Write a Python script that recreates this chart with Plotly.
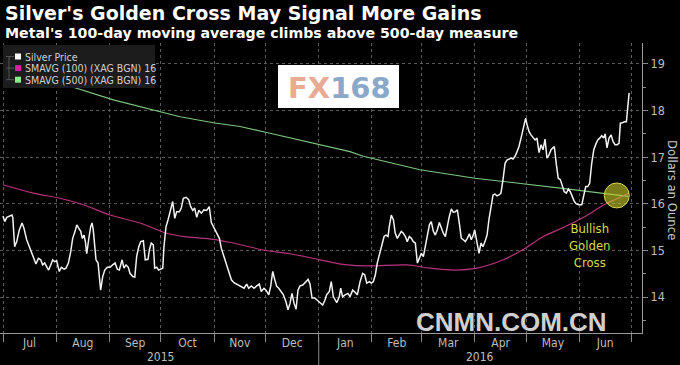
import pandas as pd
import plotly.graph_objects as go

START = pd.Timestamp("2015-07-01")

# Silver price: days since 2015-07-01, dollars per ounce
price_days = [0.0, 1.0, 2.2, 3.7, 5.2, 5.7, 6.8, 8.0, 9.5, 11.1, 12.2, 13.8, 15.3, 16.7, 18.1, 19.2,
              20.6, 22.0, 23.1, 24.3, 25.5, 26.6, 27.8, 29.0, 30.1, 31.3, 32.1, 32.8, 34.0, 35.6, 36.7,
              38.1, 39.5, 40.6, 42.0, 43.0, 44.1, 45.3, 46.2, 47.2, 48.0, 48.8, 49.9, 51.1, 51.9, 52.6,
              53.4, 54.2, 55.4, 56.1, 56.9, 58.1, 59.3, 60.8, 62.4, 63.9, 65.3, 66.6, 67.8, 69.4, 70.5,
              71.7, 73.0, 74.0, 75.6, 76.8, 77.9, 79.1, 80.3, 81.8, 82.9, 84.5, 85.3, 86.4, 87.6, 88.4,
              89.6, 90.7, 91.9, 93.1, 93.8, 95.0, 96.2, 97.3, 98.9, 100.1, 101.2, 102.8, 103.9, 105.1,
              106.7, 108.2, 109.4, 110.6, 111.7, 112.9, 114.1, 115.6, 117.1, 118.7, 120.2, 121.4, 122.6,
              123.7, 124.9, 126.1, 127.2, 128.4, 130.0, 131.5, 133.1, 134.6, 136.2, 137.7, 139.3, 140.5,
              142.0, 143.2, 144.7, 146.3, 147.9, 149.4, 150.5, 152.1, 153.3, 154.9, 156.0, 157.2, 158.4,
              159.5, 160.7, 162.2, 163.4, 164.9, 166.1, 167.3, 168.4, 169.6, 170.8, 171.9, 173.1, 174.7,
              176.2, 177.8, 178.9, 180.1, 181.7, 183.2, 184.8, 186.3, 187.5, 188.6, 190.2, 191.3, 192.5,
              194.5, 196.0, 196.8, 197.9, 199.4, 201.0, 202.2, 203.8, 205.3, 206.5, 208.1, 209.6, 210.8,
              212.0, 213.5, 214.6, 215.8, 217.0, 218.1, 219.7, 220.9, 222.1, 223.2, 224.4, 225.1, 226.3,
              227.5, 228.6, 229.8, 231.0, 232.1, 233.3, 234.5, 235.6, 236.8, 238.0, 239.1, 240.3, 241.5,
              242.6, 243.8, 245.0, 246.1, 247.3, 248.5, 249.6, 250.8, 251.9, 253.1, 254.3, 255.4, 256.6,
              257.8, 258.9, 260.1, 261.3, 262.4, 263.6, 264.8, 265.9, 267.1, 268.3, 269.4, 270.6, 271.8,
              272.9, 274.1, 274.9, 276.3, 277.4, 278.6, 279.7, 280.9, 282.1, 283.2, 284.4, 285.6, 286.7,
              287.9, 289.1, 290.2, 291.4, 292.6, 293.7, 294.9, 296.1, 297.2, 298.4, 299.6, 300.7, 301.9,
              303.1, 303.8, 304.6, 305.4, 306.6, 307.7, 308.9, 310.1, 311.2, 312.4, 313.6, 314.7, 315.9,
              317.0, 318.2, 319.4, 320.5, 321.3, 322.5, 323.6, 324.8, 326.0, 327.1, 328.3, 329.5, 330.6,
              331.8, 333.0, 334.1, 335.7, 337.3, 338.4, 339.6, 340.8, 341.9, 343.1, 344.3, 345.4, 346.6,
              347.8, 348.9, 350.1, 350.9, 352.0, 353.2, 354.4, 355.5, 356.7, 357.9, 359.0, 359.8, 361.0,
              362.2, 363.3, 364.2, 364.9]
price_vals = [15.74, 15.62, 15.71, 15.73, 15.76, 15.71, 15.08, 15.19, 15.44, 15.59, 15.48, 15.23, 15.08,
              14.98, 14.83, 14.71, 14.83, 14.80, 14.69, 14.73, 14.65, 14.58, 14.69, 14.80, 14.76, 14.78,
              14.65, 14.55, 14.64, 14.60, 14.62, 14.73, 14.98, 15.26, 15.41, 15.55, 15.48, 15.41, 15.26,
              15.33, 15.19, 14.93, 15.23, 15.51, 15.59, 15.44, 15.12, 14.80, 14.73, 14.44, 14.15, 14.44,
              14.58, 14.64, 14.64, 14.69, 14.73, 14.60, 14.58, 14.80, 14.62, 14.69, 14.64, 14.51, 14.44,
              14.43, 14.87, 15.08, 15.19, 15.21, 14.80, 14.81, 15.01, 15.16, 15.12, 14.62, 14.64, 14.58,
              14.60, 14.62, 15.08, 15.51, 15.66, 15.83, 16.05, 15.69, 15.83, 15.83, 15.91, 16.12, 16.14,
              16.09, 15.94, 15.86, 15.91, 15.71, 15.86, 15.80, 15.87, 15.86, 15.94, 15.60, 15.51, 15.44,
              15.33, 15.26, 15.05, 14.91, 14.73, 14.51, 14.37, 14.31, 14.28, 14.24, 14.21, 14.19, 14.28,
              14.19, 14.24, 14.19, 14.24, 14.28, 14.12, 14.19, 14.15, 14.05, 14.23, 14.55, 14.37, 14.23,
              14.19, 14.12, 14.05, 13.90, 13.73, 13.87, 14.08, 13.87, 13.74, 14.15, 14.24, 14.26, 14.33,
              14.38, 14.28, 13.98, 13.98, 13.94, 13.88, 13.83, 13.92, 14.05, 14.12, 14.33, 14.01, 13.88,
              14.01, 14.19, 14.01, 14.05, 14.08, 14.01, 14.15, 14.10, 14.05, 14.33, 14.51, 14.48, 14.30,
              14.33, 14.30, 14.33, 14.48, 14.73, 14.98, 15.12, 15.30, 15.33, 15.30, 15.51, 15.76, 15.66,
              15.37, 15.26, 15.33, 15.41, 15.37, 15.30, 15.19, 15.30, 15.26, 15.19, 15.16, 14.73, 14.83,
              14.94, 14.87, 15.08, 15.37, 15.55, 15.62, 15.41, 15.33, 15.44, 15.60, 15.48, 15.37, 15.30,
              15.55, 15.73, 15.89, 15.82, 15.83, 15.87, 15.59, 15.26, 15.23, 15.19, 15.26, 15.36, 15.23,
              15.33, 15.44, 15.12, 14.94, 15.16, 15.08, 15.19, 15.33, 15.66, 15.94, 16.19, 16.21, 16.17,
              16.19, 16.23, 16.52, 16.87, 16.94, 16.96, 16.98, 16.96, 17.02, 17.12, 17.23, 17.41, 17.59,
              17.73, 17.84, 17.70, 17.55, 17.48, 17.41, 17.37, 17.41, 17.10, 17.27, 17.16, 17.39, 16.98,
              17.05, 17.16, 17.20, 17.23, 16.84, 16.55, 16.52, 16.37, 16.26, 16.23, 16.32, 16.26, 16.16,
              16.05, 16.00, 15.98, 15.98, 16.16, 16.37, 16.37, 16.44, 16.87, 17.16, 17.27, 17.37, 17.41,
              17.46, 17.41, 17.50, 17.20, 17.41, 17.48, 17.34, 17.27, 17.27, 17.30, 17.73, 17.74, 17.76,
              17.76, 18.12, 18.38]

# 100-day simple moving average
sma100_days = [0.0, 17.7, 33.2, 46.8, 62.4, 79.8, 95.4, 107.1, 122.6, 134.2, 151.7, 167.3, 184.8,
               200.3, 213.9, 235.3, 248.9, 263.4, 276.1, 291.6, 303.6, 314.9, 324.6, 339.2, 350.3,
               358.4, 364.9]
sma100_vals = [16.41, 16.23, 16.12, 15.98, 15.76, 15.59, 15.37, 15.29, 15.24, 15.16, 15.01, 14.93,
               14.80, 14.69, 14.67, 14.69, 14.62, 14.58, 14.62, 14.80, 15.03, 15.30, 15.46, 15.73,
               15.98, 16.12, 16.24]

# 500-day simple moving average
sma500_days = [0.0, 33.2, 64.3, 93.4, 103.2, 122.6, 138.1, 153.7, 173.1, 184.8, 202.2, 210.0,
               243.0, 275.1, 304.2, 333.4, 350.9, 364.3]
sma500_vals = [19.00, 18.59, 18.23, 17.95, 17.87, 17.74, 17.66, 17.53, 17.36, 17.27, 17.12, 17.02,
               16.73, 16.55, 16.43, 16.30, 16.22, 16.16]

cross_day = [357.7]
cross_val = [16.18]

series_names = ["Silver Price", "SMAVG (100) (XAG BGN) 16", "SMAVG (500) (XAG BGN) 16"]
series_colors = ["#f2f2f2", "#b8327e", "#7cc47e"]
legend_swatch = ["#ffffff", "#d8209a", "#86ee88"]
year_labels = ["2015", "2016"]


def to_dates(days):
    return START + pd.to_timedelta(days, unit="D")


W, H = 680, 365
ML, MR, MT, MB = 0, 38, 43, 32
PW, PH = W - ML - MR, H - MT - MB


def px(x):
    return (x - ML) / PW


def py(y):
    return (H - MB - y) / PH


fig = go.Figure()
fig.add_trace(go.Scatter(x=to_dates(sma500_days), y=sma500_vals, mode="lines",
                         line=dict(color=series_colors[2], width=1.1), hoverinfo="skip"))
fig.add_trace(go.Scatter(x=to_dates(sma100_days), y=sma100_vals, mode="lines",
                         line=dict(color=series_colors[1], width=1.2, shape="spline"), hoverinfo="skip"))
fig.add_trace(go.Scatter(x=to_dates(price_days), y=price_vals, mode="lines",
                         line=dict(color=series_colors[0], width=1.5), hoverinfo="skip"))
fig.add_trace(go.Scatter(x=to_dates(cross_day), y=cross_val, mode="markers",
                         marker=dict(size=25, color="rgba(200,200,40,0.62)",
                                     line=dict(color="#d6d650", width=1)), hoverinfo="skip"))

grid = "#5a5a5a"
fig.update_layout(
    width=W, height=H,
    margin=dict(l=ML, r=MR, t=MT, b=MB, autoexpand=False),
    paper_bgcolor="#000000", plot_bgcolor="#000000",
    showlegend=False,
    font=dict(family="Liberation Sans Narrow, DejaVu Sans Condensed, Liberation Sans", color="#bdbdbd"),
    xaxis=dict(
        type="date",
        range=[START + pd.Timedelta(days=-1.75), START + pd.Timedelta(days=372.4)],
        tick0="2015-07-01", dtick="M1", ticklabelmode="period", tickformat="%b",
        ticks="outside", ticklen=8, tickcolor="#8a8a8a", ticklabelstandoff=-9,
        showline=True, linecolor="#9a9a9a", linewidth=1,
        showgrid=True, gridcolor=grid, griddash="dot", gridwidth=1,
        tickfont=dict(size=12, color="#bdbdbd"),
        zeroline=False,
    ),
    yaxis=dict(
        side="right", range=[13.23, 19.45], dtick=1, tick0=14,
        ticks="outside", ticklen=5, tickcolor="#8a8a8a",
        minor=dict(dtick=0.5, ticks="outside", ticklen=3, tickcolor="#8a8a8a", showgrid=False),
        showline=True, linecolor="#9a9a9a", linewidth=1,
        showgrid=True, gridcolor=grid, griddash="dot", gridwidth=1,
        tickfont=dict(size=12.5, color="#bdbdbd"),
        zeroline=False,
    ),
)

ann = []
# Titles
ann.append(dict(text="<b>Silver's Golden Cross May Signal More Gains</b>", x=px(3), y=py(13),
                xref="paper", yref="paper", xanchor="left", yanchor="middle", showarrow=False,
                font=dict(family="DejaVu Sans", size=19, color="#ffffff")))
ann.append(dict(text="<b>Metal's 100-day moving average climbs above 500-day measure</b>", x=px(3), y=py(33),
                xref="paper", yref="paper", xanchor="left", yanchor="middle", showarrow=False,
                font=dict(family="DejaVu Sans", size=14.2, color="#ffffff")))
# Legend box
shapes = [dict(type="rect", xref="paper", yref="paper", x0=px(3), x1=px(155), y0=py(88), y1=py(45),
               fillcolor="#1c1c1c", line=dict(width=0), layer="above")]
for i, (name, sw) in enumerate(zip(series_names, legend_swatch)):
    yc = 56.5 + i * 11.6
    shapes.append(dict(type="rect", xref="paper", yref="paper", x0=px(15), x1=px(21),
                       y0=py(yc + 3), y1=py(yc - 3), fillcolor=sw, line=dict(width=0), layer="above"))
    ann.append(dict(text=name, x=px(23), y=py(yc), xref="paper", yref="paper", xanchor="left",
                    yanchor="middle", showarrow=False,
                    font=dict(family="DejaVu Sans Condensed, Liberation Sans Narrow", size=10.5, color="#d0d0d0")))
# tree connector of the legend
shapes.append(dict(type="line", xref="paper", yref="paper", x0=px(9), x1=px(9), y0=py(80), y1=py(56),
                   line=dict(color="#555555", width=1), layer="above"))
for i in range(3):
    yc = 56.5 + i * 11.6
    shapes.append(dict(type="line", xref="paper", yref="paper", x0=px(6), x1=px(14), y0=py(yc), y1=py(yc),
                       line=dict(color="#555555", width=1), layer="above"))

# FX168 logo
shapes.append(dict(type="rect", xref="paper", yref="paper", x0=px(278), x1=px(399), y0=py(108), y1=py(65),
                   fillcolor="#ffffff", line=dict(width=0), layer="above"))
ann.append(dict(text="<b><span style='color:#e9ab93'>FX</span><span style='color:#8aa9c8'>168</span></b>",
                x=px(339.5), y=py(88), xref="paper", yref="paper", xanchor="center", yanchor="middle",
                showarrow=False, font=dict(family="DejaVu Sans", size=29)))

# Golden cross label
ann.append(dict(text="Bullish<br>Golden<br>Cross", x=px(590), y=py(245), xref="paper", yref="paper",
                xanchor="center", yanchor="middle", showarrow=False, align="center",
                font=dict(family="DejaVu Sans Condensed, Liberation Sans Narrow", size=13, color="#d8d848")))

# Right axis title
ann.append(dict(text="Dollars an Ounce", x=px(673), y=py(190), xref="paper", yref="paper",
                xanchor="center", yanchor="middle", showarrow=False, textangle=90,
                font=dict(family="DejaVu Sans Condensed, Liberation Sans Narrow", size=13, color="#c8c8c8")))

# Year labels
ann.append(dict(text=year_labels[0], x=px(160), y=py(357), xref="paper", yref="paper", xanchor="center",
                yanchor="middle", showarrow=False, font=dict(size=12, color="#bdbdbd")))
ann.append(dict(text=year_labels[1], x=px(480), y=py(357), xref="paper", yref="paper", xanchor="center",
                yanchor="middle", showarrow=False, font=dict(size=12, color="#bdbdbd")))
shapes.append(dict(type="line", xref="x", yref="paper", x0="2016-01-01", x1="2016-01-01",
                   y0=py(337), y1=py(365), line=dict(color="#8a8a8a", width=1)))

# Watermark
ann.append(dict(text="<b>CNMN.COM.CN</b>", x=px(511), y=py(322), xref="paper", yref="paper",
                xanchor="center", yanchor="middle", showarrow=False,
                font=dict(family="Liberation Sans", size=26, color="#cfcfcf")))

fig.update_layout(annotations=ann, shapes=shapes)
fig.write_html("out.html", config={"displayModeBar": False},
               post_script="document.body.style.margin='0';document.body.style.background='#000';")
